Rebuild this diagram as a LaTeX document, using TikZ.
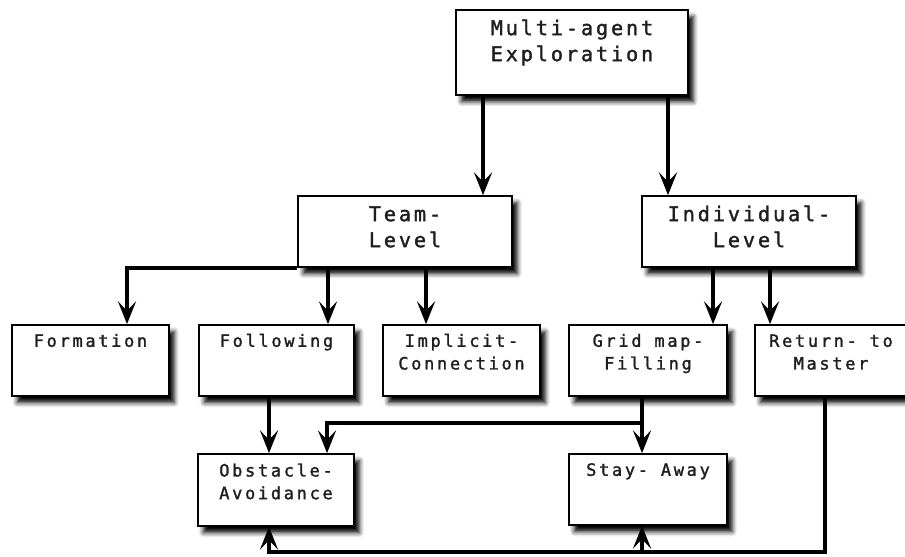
\documentclass[tikz,border=0pt]{standalone}
\usepackage{fontspec}
\usetikzlibrary{arrows.meta,fit,shadows.blur}
\newfontfamily\boxfontA[LetterSpace=14,FakeBold=1.6]{DejaVu Sans Mono}
\newfontfamily\boxfontB[LetterSpace=16,FakeBold=1.6]{DejaVu Sans Mono}
\begin{document}
\begin{tikzpicture}[x=0.75pt,y=-0.75pt,
  box/.style={draw=black, line width=1.3pt, fill=white, inner sep=0pt,
    blur shadow={shadow xshift=4pt, shadow yshift=-5pt, shadow blur radius=3.5pt, shadow opacity=100}},
  upper/.style={font=\boxfontA\fontsize{15.2}{19.5}\selectfont, text=black!88, align=center, inner sep=0pt, anchor=base},
  lower/.style={font=\boxfontB\fontsize{12.7}{17}\selectfont, text=black!88, align=center, inner sep=0pt, anchor=base},
  arr/.style={line width=3pt, -{Stealth[length=17pt,width=13.5pt,inset=7pt]}}]
\useasboundingbox (0,0) rectangle (905,556);

% boxes
\node[box, fit={(456,10) (688,95)}] (multi) {};
\node[box, fit={(298,196) (512,267)}] (team) {};
\node[box, fit={(642,196) (856,267)}] (indiv) {};
\node[box, fit={(12,325) (169,396)}] (form) {};
\node[box, fit={(199,325) (354,396)}] (follow) {};
\node[box, fit={(383,325) (540,396)}] (impl) {};
\node[box, fit={(569,325) (727,396)}] (grid) {};
\node[box, fit={(755,325) (907,396)}] (ret) {};
\node[box, fit={(198,454) (354,526)}] (obst) {};
\node[box, fit={(569,454) (727,525)}] (stay) {};

% labels (a two-line label sits on the baseline of its last line)
\node[upper] (multiT) at ([yshift=-39pt]multi.north) {Multi-agent\\Exploration};
\node[upper] (teamT) at ([yshift=-39pt]team.north) {Team-\\Level};
\node[upper] (indivT) at ([yshift=-39pt]indiv.north) {Individual-\\Level};
\node[lower] (formT) at ([yshift=-17pt]form.north) {Formation};
\node[lower] (followT) at ([yshift=-17pt]follow.north) {Following};
\node[lower] (implT) at ([yshift=-34pt]impl.north) {Implicit-\\Connection};
\node[lower] (gridT) at ([yshift=-34pt]grid.north) {Grid map-\\Filling};
\node[lower] (retT) at ([yshift=-34pt]ret.north) {Return- to\\Master};
\node[lower] (obstT) at ([yshift=-34.5pt]obst.north) {Obstacle-\\Avoidance};
\node[lower] (stayT) at ([yshift=-17pt]stay.north) {Stay- Away};

% connector columns
\coordinate (cA) at (483,0);
\coordinate (cB) at (668,0);
\coordinate (cF) at (127,0);
\coordinate (cG) at (328,0);
\coordinate (cH) at (426,0);
\coordinate (cI) at (713,0);
\coordinate (cJ) at (770,0);
\coordinate (cK) at (269,0);
\coordinate (cL) at (642,0);
\coordinate (cM) at (327,0);
\coordinate (jA) at (642,423);
\coordinate (jB) at (825,552);

% connectors
\draw[arr] (multi.south -| cA) -- (team.north -| cA);
\draw[arr] (multi.south -| cB) -- (indiv.north -| cB);
\draw[arr] (team.south west) -| (form.north -| cF);
\draw[arr] (team.south -| cG) -- (follow.north -| cG);
\draw[arr] (team.south -| cH) -- (impl.north -| cH);
\draw[arr] (indiv.south -| cI) -- (grid.north -| cI);
\draw[arr] (indiv.south -| cJ) -- (ret.north -| cJ);
\draw[arr] (follow.south -| cK) -- (obst.north -| cK);
\draw[arr] (grid.south -| cL) -- (stay.north -| cL);
\draw[arr] (jA) -| (obst.north -| cM);
\draw[arr] (ret.south -| jB) -- (jB) -| (obst.south -| cK);
\draw[arr] (jB -| cL) -- (stay.south -| cL);
\end{tikzpicture}
\end{document}
